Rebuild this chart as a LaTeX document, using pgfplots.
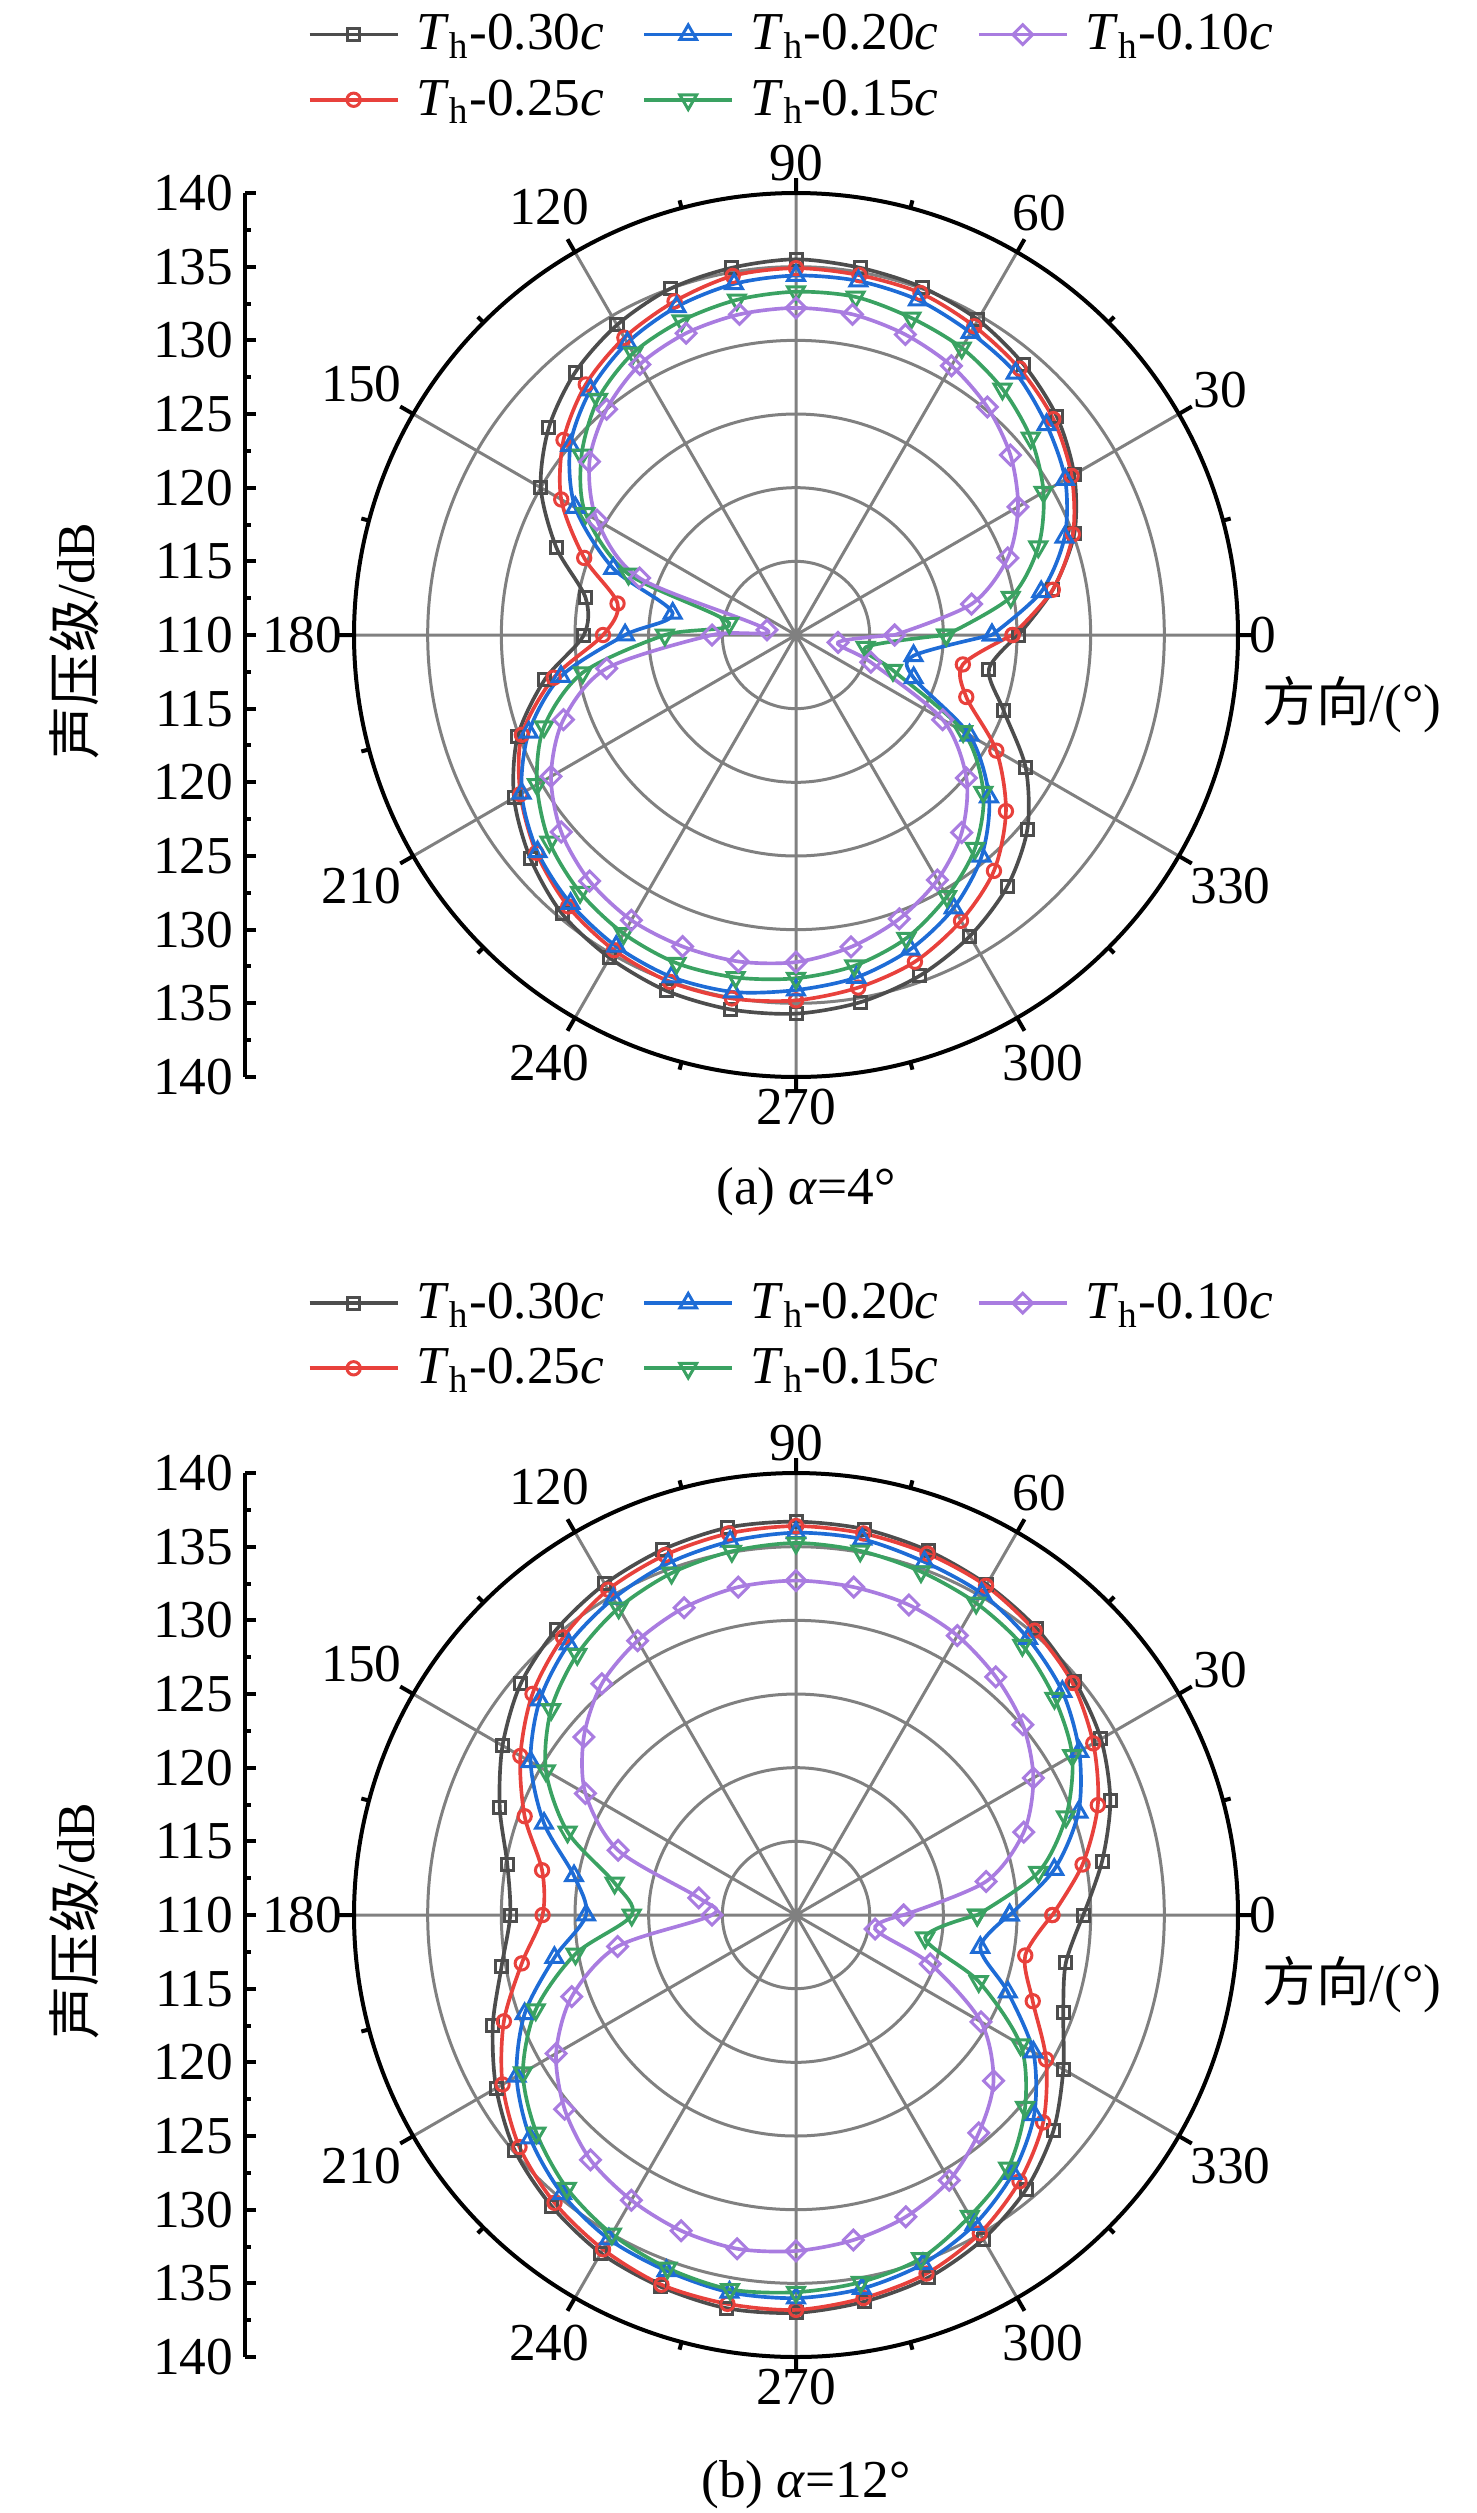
\documentclass[border=0pt]{standalone}
\usepackage{fontspec}
\setmainfont{Liberation Serif}
\newfontfamily\cjk{Noto Sans CJK SC}
\usepackage{pgfplots}
\usepackage{pgfplotstable}
\pgfplotsset{compat=1.18}
\usepgfplotslibrary{polar}

\definecolor{cK}{HTML}{4D4D4D}
\definecolor{cR}{HTML}{E8413C}
\definecolor{cB}{HTML}{1E6CD6}
\definecolor{cG}{HTML}{3AA262}
\definecolor{cP}{HTML}{A97CE0}
\definecolor{cGrid}{HTML}{808080}

% panel (a), alpha = 4 deg
\pgfplotstableread{
a r30 r25 r20 r15 r10
0 125.1 124.7 123.3 120.2 116.7
10 127.7 127.7 126.9 124.8 122.1
20 130.1 130.0 129.4 127.5 125.3
30 131.8 131.6 131.1 129.4 127.4
40 133.1 132.8 132.2 130.8 129.0
50 134.0 133.6 133.2 131.8 130.2
60 134.7 134.2 133.7 132.5 131.1
70 135.1 134.7 134.2 132.9 131.7
80 135.3 134.8 134.4 133.3 132.1
90 135.5 134.9 134.4 133.3 132.2
100 135.3 134.75 134.2 133.1 132.1
110 135.0 134.1 133.7 132.7 131.8
120 134.3 133.3 132.9 132.1 131.2
130 133.3 132.2 131.7 130.9 130.0
140 131.9 130.6 130.0 129.0 128.3
150 130.0 128.4 127.3 126.5 125.6
160 127.3 125.3 123.2 122.1 121.3
170 124.5 122.3 118.5 114.6 112.0
180 124.4 123.1 121.6 118.9 115.7
190 127.3 126.7 126.2 124.7 123.05
200 130.1 129.8 129.3 128.2 126.8
210 132.1 131.6 131.5 130.3 129.2
220 133.55 133.0 132.9 131.85 130.8
230 134.7 134.05 133.8 132.8 131.8
240 135.3 134.7 134.4 133.4 132.35
250 135.7 135.05 134.7 133.7 132.5
260 135.8 135.05 134.6 133.6 132.5
270 135.7 134.8 134.1 133.3 132.2
280 135.3 134.3 133.6 132.8 131.5
290 134.6 133.6 132.7 131.9 130.5
300 133.6 132.4 131.4 130.5 129.2
310 132.3 130.9 129.6 128.9 127.5
320 130.5 128.6 127.1 126.6 125.1
330 128.0 125.7 123.6 123.1 121.5
340 125.0 122.3 118.5 117.0 115.4
350 123.3 121.5 118.1 114.8 112.9
360 125.1 124.7 123.3 120.2 116.7
}\dataA

% panel (b), alpha = 12 deg
\pgfplotstableread{
a r30 r25 r20 r15 r10
0 129.5 127.4 124.5 122.3 117.3
10 131.1 129.75 127.8 126.7 123.1
20 132.7 131.8 130.4 129.5 126.45
30 133.9 133.3 132.2 131.65 128.6
40 134.7 134.5 133.6 132.9 130.1
50 135.4 135.2 134.5 133.9 131.1
60 135.9 135.8 135.2 134.45 131.9
70 136.3 136.1 135.5 134.8 132.4
80 136.6 136.3 135.9 135.1 132.6
90 136.7 136.4 135.95 135.25 132.7
100 136.7 136.3 135.75 135.07 132.6
110 136.4 136.0 135.4 134.7 132.2
120 135.95 135.5 134.8 134.07 131.5
130 135.3 134.6 134.0 133.1 130.5
140 134.4 133.35 132.7 131.7 128.8
150 133.0 131.6 130.8 129.6 126.5
160 131.4 129.6 128.2 126.5 122.85
170 129.9 127.5 125.3 122.5 116.7
180 129.4 127.2 124.25 121.15 115.7
190 130.3 128.9 126.65 125.2 122.3
200 131.9 131.1 129.6 128.8 126.2
210 133.5 133.0 131.9 131.4 128.8
220 134.9 134.5 133.55 133.0 130.5
230 135.8 135.5 134.7 134.2 131.7
240 136.5 136.2 135.4 135.0 132.35
250 136.85 136.7 135.7 135.5 132.8
260 137.1 136.8 136.0 135.8 133.0
270 137.0 136.8 136.0 135.6 132.8
280 136.65 136.4 135.75 135.3 132.4
290 136.2 135.9 135.2 134.8 131.8
300 135.4 134.95 134.25 133.6 130.8
310 134.3 133.6 132.9 132.4 129.3
320 132.8 131.9 131.1 130.3 127.5
330 130.95 129.6 128.6 127.6 124.5
340 129.3 127.1 125.3 123.2 119.7
350 128.6 125.8 122.7 118.9 115.45
360 129.5 127.4 124.5 122.3 117.3
}\dataB

\newcommand\fs{\fontsize{16}{19}\selectfont}

\pgfplotsset{
  sK/.style={cK, line width=1.1pt, mark=square, mark size=1.8pt,
    mark options={fill=white, line width=0.9pt, solid}},
  sR/.style={cR, line width=1.1pt, mark=o, mark size=2.0pt,
    mark options={fill=white, line width=0.9pt, solid}},
  sB/.style={cB, line width=1.1pt, mark=triangle, mark size=2.9pt,
    mark options={fill=white, line width=0.9pt, solid}},
  sG/.style={cG, line width=1.1pt, mark=triangle, mark size=2.9pt,
    mark options={fill=white, line width=0.9pt, solid, rotate=180}},
  sP/.style={cP, line width=1.1pt, mark=square, mark size=2.1pt,
    mark options={fill=white, line width=0.9pt, solid, rotate=45}},
  leftax/.style={
    scale only axis, width=297.9pt, height=265.2pt,
    xmin=0, xmax=1, ymin=-30, ymax=30,
    axis x line=none, axis y line*=left,
    axis line style={line width=1.2pt, black},
    ytick={-30,-25,...,30}, minor y tick num=1,
    yticklabel={\pgfmathparse{110+abs(\tick)}\pgfmathprintnumber{\pgfmathresult}},
    /pgf/number format/assume math mode=true,
    tick align=inside, major tick length=3.3pt, minor tick length=1.8pt,
    tick style={black, line width=1.2pt},
    tick label style={font=\fs},
    legend columns=3,
    legend image code/.code={\draw[mark repeat=2,mark phase=2,##1] plot coordinates {(0pt,0pt) (13.2pt,0pt) (26.4pt,0pt)};},
    legend style={draw=none, fill=none, anchor=north west, font=\fs,
      nodes={inner ysep=1.5pt, inner xsep=5pt},
      row sep=4.4pt,
      /tikz/every even column/.append style={column sep=6.5pt}},
  },
  polax/.style={
    scale only axis, width=265.2pt, height=265.2pt,
    xmin=0, xmax=360, ymin=0, ymax=30,
    y filter/.expression={y-110},
    xtick={0,30,...,330}, minor x tick num=1,
    xticklabel={\pgfmathprintnumber{\tick}},
    /pgf/number format/assume math mode=true,
    ytick={5,10,...,25}, yticklabels={},
    ytick style={draw=none},
    y axis line style={draw=none},
    xmajorgrids, ymajorgrids,
    major grid style={cGrid, line width=0.9pt},
    axis line style={line width=1.2pt, black},
    tick align=inside, major tick length=4.5pt, minor tick length=2.4pt,
    xtick style={black, line width=1.2pt},
    tick label style={font=\fs},
  },
}

\begin{document}
\begin{tikzpicture}[font=\fs]
\path[use as bounding box] (0,0) rectangle (442.8pt,-753.9pt);

% ---------- panel (a)
\begin{axis}[leftax, at={(73.5pt,-190.5pt)}, anchor=west,
  legend style={at={(rel axis cs:0.0525,1.216)}}]
\addlegendimage{sK}\addlegendentry{\textit{T}\textsubscript{h}-0.30\textit{c}}
\addlegendimage{sB}\addlegendentry{\textit{T}\textsubscript{h}-0.20\textit{c}}
\addlegendimage{sP}\addlegendentry{\textit{T}\textsubscript{h}-0.10\textit{c}}
\addlegendimage{sR}\addlegendentry{\textit{T}\textsubscript{h}-0.25\textit{c}}
\addlegendimage{sG}\addlegendentry{\textit{T}\textsubscript{h}-0.15\textit{c}}
\end{axis}
\begin{polaraxis}[polax, at={(238.8pt,-190.5pt)}, anchor=center]
\addplot[sK, smooth] table[x=a, y=r30] {\dataA};
\addplot[sR, smooth] table[x=a, y=r25] {\dataA};
\addplot[sB, smooth] table[x=a, y=r20] {\dataA};
\addplot[sG, smooth] table[x=a, y=r15] {\dataA};
\addplot[sP, smooth] table[x=a, y=r10] {\dataA};
\end{polaraxis}
\node[rotate=90] at (22.2pt,-192.3pt) {{\cjk 声压级}/dB};
\node at (405.6pt,-211.5pt) {{\cjk 方向}/(°)};
\node at (241.8pt,-357.5pt) {(a) \textit{α}=4°};

% ---------- panel (b)
\begin{axis}[leftax, at={(73.5pt,-574.5pt)}, anchor=west,
  legend style={at={(rel axis cs:0.0525,1.229)}}]
\addlegendimage{sK}\addlegendentry{\textit{T}\textsubscript{h}-0.30\textit{c}}
\addlegendimage{sB}\addlegendentry{\textit{T}\textsubscript{h}-0.20\textit{c}}
\addlegendimage{sP}\addlegendentry{\textit{T}\textsubscript{h}-0.10\textit{c}}
\addlegendimage{sR}\addlegendentry{\textit{T}\textsubscript{h}-0.25\textit{c}}
\addlegendimage{sG}\addlegendentry{\textit{T}\textsubscript{h}-0.15\textit{c}}
\end{axis}
\begin{polaraxis}[polax, at={(238.8pt,-574.5pt)}, anchor=center]
\addplot[sK, smooth] table[x=a, y=r30] {\dataB};
\addplot[sR, smooth] table[x=a, y=r25] {\dataB};
\addplot[sB, smooth] table[x=a, y=r20] {\dataB};
\addplot[sG, smooth] table[x=a, y=r15] {\dataB};
\addplot[sP, smooth] table[x=a, y=r10] {\dataB};
\end{polaraxis}
\node[rotate=90] at (22.2pt,-576.3pt) {{\cjk 声压级}/dB};
\node at (405.6pt,-595.5pt) {{\cjk 方向}/(°)};
\node at (241.8pt,-745.5pt) {(b) \textit{α}=12°};
\end{tikzpicture}
\end{document}
